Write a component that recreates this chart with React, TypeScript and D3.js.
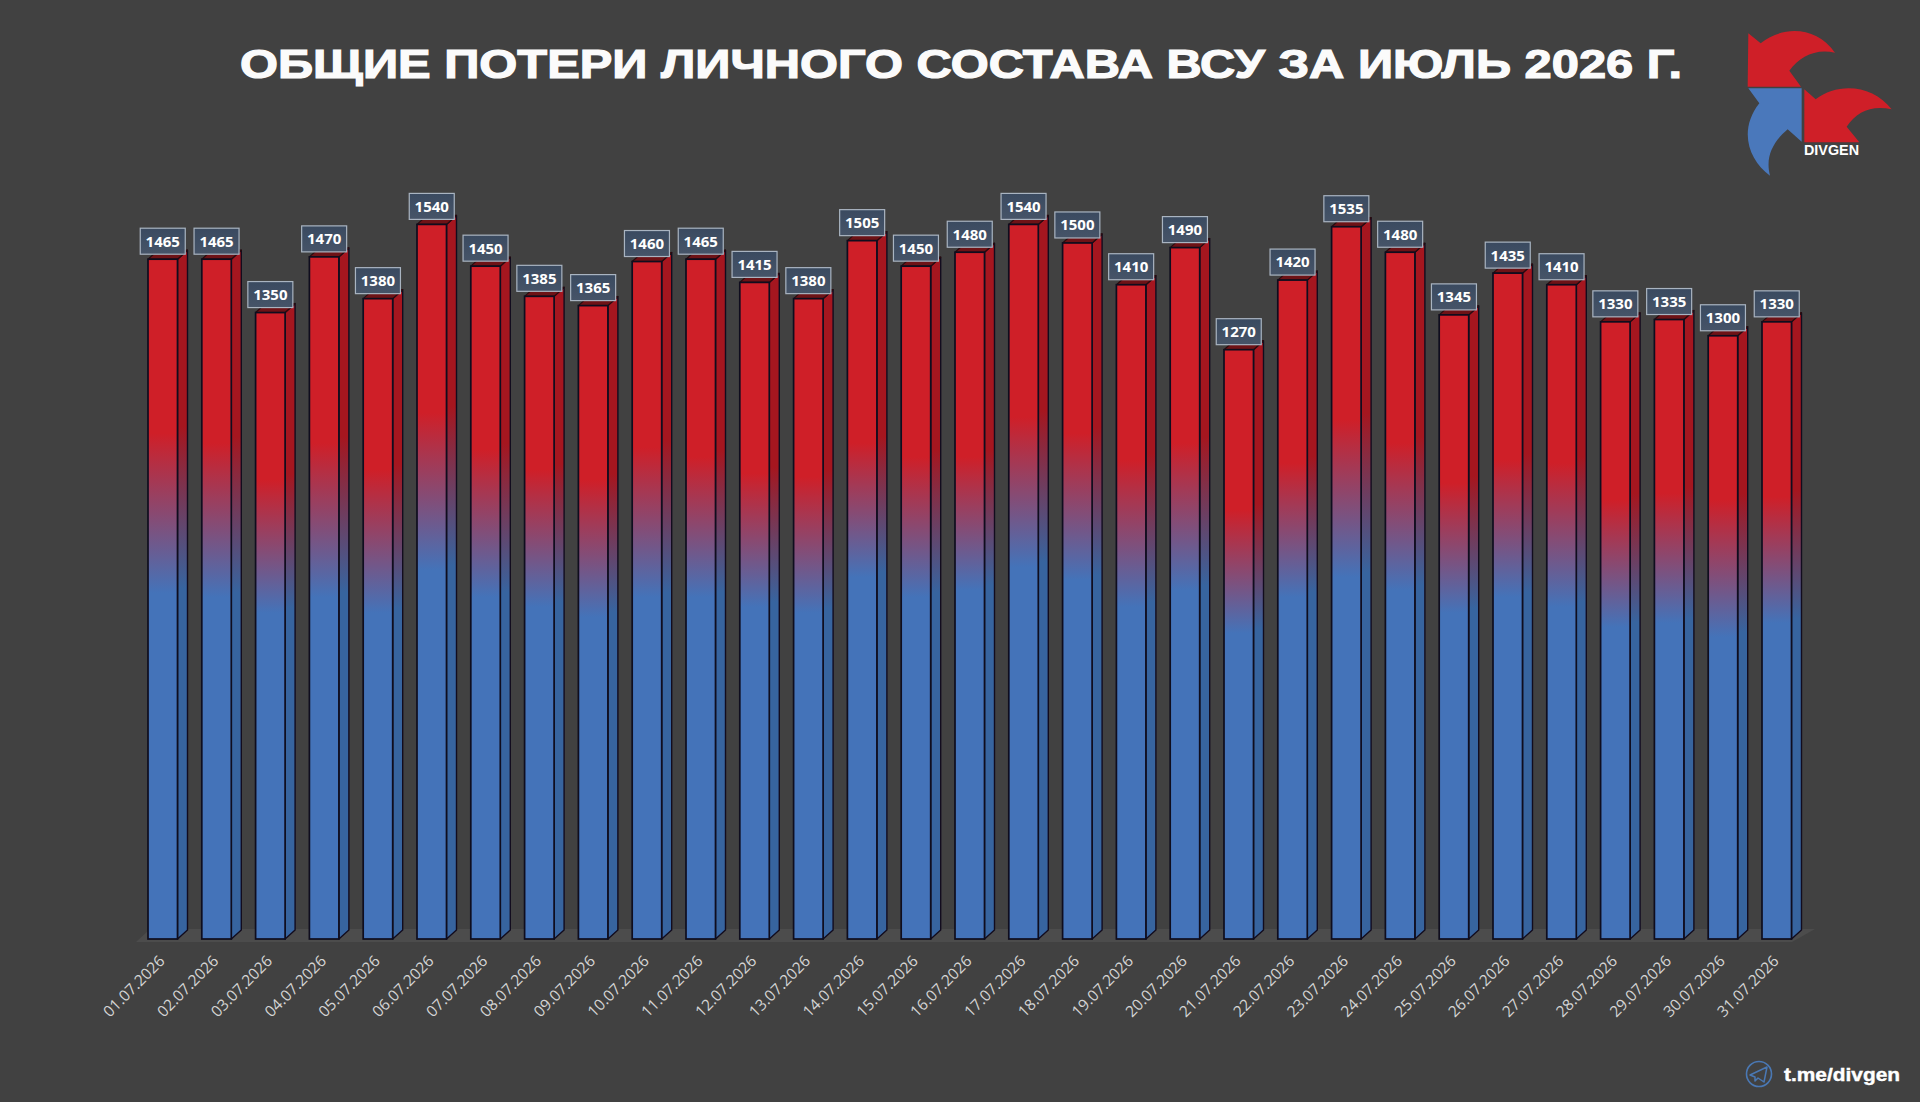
import React from "react";
import * as d3 from "d3";

const titleText = "ОБЩИЕ ПОТЕРИ ЛИЧНОГО СОСТАВА ВСУ ЗА ИЮЛЬ 2026 Г.";
const brandName = "DIVGEN";
const channel = "t.me/divgen";

const dates = [
  "01.07.2026","02.07.2026","03.07.2026","04.07.2026","05.07.2026","06.07.2026","07.07.2026","08.07.2026",
  "09.07.2026","10.07.2026","11.07.2026","12.07.2026","13.07.2026","14.07.2026","15.07.2026","16.07.2026",
  "17.07.2026","18.07.2026","19.07.2026","20.07.2026","21.07.2026","22.07.2026","23.07.2026","24.07.2026",
  "25.07.2026","26.07.2026","27.07.2026","28.07.2026","29.07.2026","30.07.2026","31.07.2026",
];
const losses = [
  1465,1465,1350,1470,1380,1540,1450,1385,1365,1460,1465,1415,1380,1505,1450,1480,
  1540,1500,1410,1490,1270,1420,1535,1480,1345,1435,1410,1330,1335,1300,1330,
];
// Level (in the chart's own units) at which each bar stops being pure red / becomes pure blue
const fadeStart = [1090,1069,989,1069,1011,1134,1054,1011,989,1060,1039,1004,996,1069,1039,1039,1125,1090,1032,1069,925,1026,1119,1069,983,1032,1026,946,961,946,953];
const fadeEnd = [746,737,703,737,703,795,737,716,694,737,737,716,703,780,737,752,802,774,716,752,659,737,780,752,703,737,716,672,681,651,681];

const W = 1920, H = 1102;
const BASE = 939, TOP = 224.4;
const DX = 10, DY = 9;

const x = d3.scaleBand<string>().domain(dates).range([148, 1791.5]).paddingInner(0.4517).paddingOuter(0);
const y = d3.scaleLinear().domain([0, 1540]).range([BASE, TOP]);

const RED = "#cf1f28", BLUE = "#4473b9";
const SRED = "#a5161f", SBLUE = "#37649f";

const App = () => {
  const bw = x.bandwidth();
  return (
    <svg width={W} height={H} viewBox={`0 0 ${W} ${H}`} style={{ position: "fixed", left: 0, top: 0, display: "block" }}>
      <defs>
        {losses.map((v, i) => {
          const off = (l: number) => ((y(l) - y(v)) / (BASE - y(v))) * 100 + "%";
          return (
            <React.Fragment key={i}>
              <linearGradient id={`f${i}`} x1="0" y1="0" x2="0" y2="1">
                <stop offset={off(fadeStart[i])} stopColor={RED} />
                <stop offset={off(fadeEnd[i])} stopColor={BLUE} />
              </linearGradient>
              <linearGradient id={`s${i}`} x1="0" y1="0" x2="0" y2="1">
                <stop offset={off(fadeStart[i])} stopColor={SRED} />
                <stop offset={off(fadeEnd[i])} stopColor={SBLUE} />
              </linearGradient>
            </React.Fragment>
          );
        })}
        <linearGradient id="lbl" x1="0" y1="0" x2="0" y2="1">
          <stop offset="0" stopColor="#3a4a60" />
          <stop offset="1" stopColor="#465468" />
        </linearGradient>
      </defs>
      <rect width={W} height={H} fill="#414141" />

      {/* title */}
      <text x={240} y={78} textLength={1442} lengthAdjust="spacingAndGlyphs" fontFamily="'Liberation Sans'" fontWeight={700}
        fontSize={40.5} fill="#fbfbfb" stroke="#fbfbfb" strokeWidth={1.2}>{titleText}</text>

      {/* floor */}
      <path d={d3.line()([[136, 942], [150, 929], [1815, 929], [1792, 942]])! + "Z"} fill="#4c4c4c" />

      {/* bars */}
      {losses.map((v, i) => {
        const bx = x(dates[i])!;
        const t = y(v);
        return (
          <g key={i}>
            <path d={`M${bx + bw},${t}L${bx + bw + DX},${t - DY}V${BASE - DY}L${bx + bw},${BASE}Z`} fill={`url(#s${i})`} stroke="#120c1e" strokeWidth={1.4} strokeLinejoin="round" />
            <path d={`M${bx},${t}L${bx + DX},${t - DY}H${bx + bw + DX}L${bx + bw},${t}Z`} fill="#6e1216" stroke="#2a0a0e" strokeWidth={1.2} strokeLinejoin="round" />
            <rect x={bx} y={t} width={bw} height={BASE - t} fill={`url(#f${i})`} stroke="#0f0d1e" strokeWidth={1.7} />
          </g>
        );
      })}

      {/* value labels */}
      {losses.map((v, i) => {
        const cx = x(dates[i])! + bw / 2;
        const t = y(v);
        return (
          <g key={i}>
            <rect x={cx - 22.5} y={t - 31} width={45} height={26} fill="url(#lbl)" stroke="#a9b4c1" strokeWidth={1.2} />
            <text x={cx} y={t - 12.6} textAnchor="middle" fontFamily="'Open Sans'" fontWeight={700} fontSize={15} fill="#fff">{v}</text>
          </g>
        );
      })}

      {/* date labels */}
      {dates.map((d) => {
        const cx = x(d)! + bw / 2;
        return (
          <text key={d} transform={`translate(${cx + 3},${962}) rotate(-45)`} textAnchor="end" fontFamily="'Open Sans'" fontSize={15.5} fill="#d4d4d4">{d}</text>
        );
      })}

      {/* logo */}
      <g transform="translate(1720,10) scale(0.3333)">
        <path d="M85,70L122,100C190,45 290,50 345,128C285,115 240,140 208,182L243,230H83Z" fill="#cf1f28" />
        <path d="M85,235H245V395L203,358C160,395 135,440 150,497C85,450 55,360 118,280Z" fill="#4a78bb" />
        <path d="M253,238L287,268C355,215 460,225 515,298C455,285 410,305 380,350L418,397H253Z" fill="#cf1f28" />
      </g>
      <text x={1804} y={155} textLength={55} lengthAdjust="spacingAndGlyphs" fontFamily="'Liberation Sans'" fontWeight={700} fontSize={14} fill="#fff">{brandName}</text>

      {/* channel */}
      <circle cx={1759} cy={1074} r={12.5} fill="none" stroke="#4a78b4" strokeWidth={1.6} />
      <path d="M1750,1075L1767,1067L1764,1082L1758,1078L1755,1081L1755,1077Z" fill="none" stroke="#4a78b4" strokeWidth={1.5} strokeLinejoin="round" />
      <text x={1784} y={1081} textLength={116} lengthAdjust="spacingAndGlyphs" fontFamily="'Liberation Sans'" fontWeight={700} fontSize={19} fill="#fff" stroke="#fff" strokeWidth={0.4}>{channel}</text>
    </svg>
  );
};

export default App;
